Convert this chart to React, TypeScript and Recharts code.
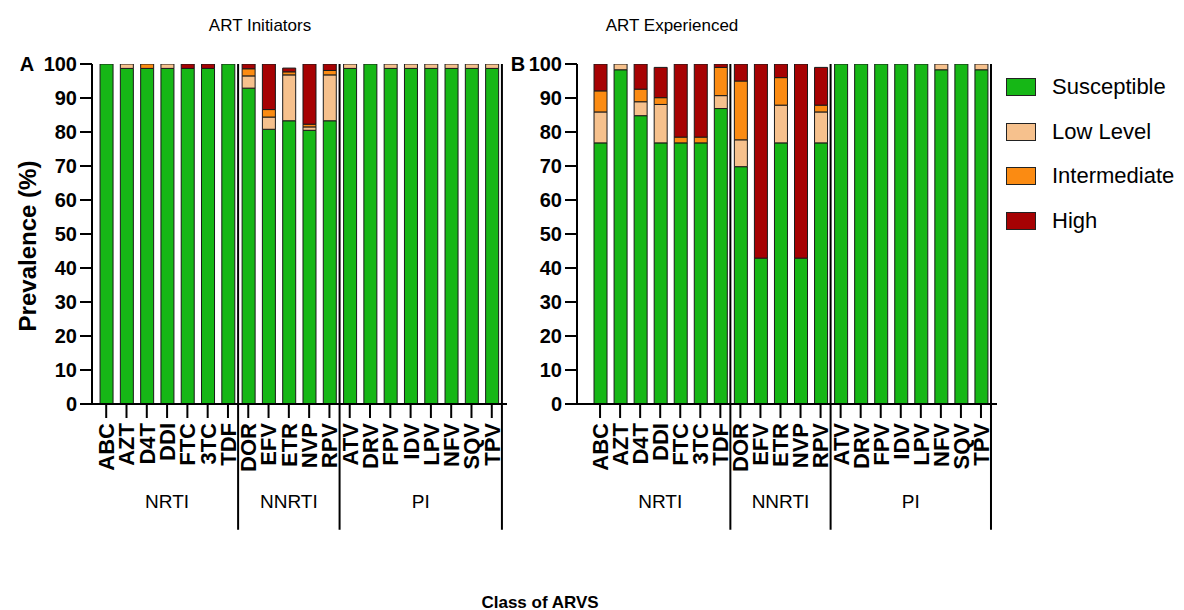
import React from "react";
import { BarChart, Bar, XAxis, YAxis, ReferenceLine } from "recharts";

const drugs = ["ABC","AZT","D4T","DDI","FTC","3TC","TDF","DOR","EFV","ETR","NVP","RPV","ATV","DRV","FPV","IDV","LPV","NFV","SQV","TPV"];
const groupNames = ["NRTI", "NNRTI", "PI"];
const groupSizes = [7, 5, 8];
const yTicks = [0, 10, 20, 30, 40, 50, 60, 70, 80, 90, 100];

const seriesNames = ["Susceptible", "Low Level", "Intermediate", "High"];
const seriesColors = ["#16b716", "#f6c18d", "#fb8b12", "#a60203"];

// ART Initiators
const susA = [100, 98.7, 98.7, 98.7, 98.7, 98.7, 100, 92.9, 80.8, 83.3, 80.5, 83.3, 98.7, 100, 98.7, 98.7, 98.7, 98.7, 98.7, 98.7];
const lowA = [0, 1.3, 0, 1.3, 0, 0, 0, 3.6, 3.6, 13.5, 1.0, 13.5, 1.3, 0, 1.3, 1.3, 1.3, 1.3, 1.3, 1.3];
const intA = [0, 0, 1.3, 0, 0, 0, 0, 2.1, 2.2, 0.9, 0.8, 1.3, 0, 0, 0, 0, 0, 0, 0, 0];
const highA = [0, 0, 0, 0, 1.3, 1.3, 0, 1.4, 13.4, 1.1, 17.7, 1.9, 0, 0, 0, 0, 0, 0, 0, 0];

// ART Experienced
const susB = [76.8, 98.3, 84.8, 76.8, 76.8, 76.8, 86.9, 69.8, 42.9, 76.8, 42.9, 76.8, 100, 100, 100, 100, 100, 98.3, 100, 98.3];
const lowB = [9.1, 1.7, 4.1, 11.3, 0, 0, 3.8, 7.9, 0, 11.1, 0, 9.1, 0, 0, 0, 0, 0, 1.7, 0, 1.7];
const intB = [6.2, 0, 3.7, 2.0, 1.7, 1.7, 8.3, 17.3, 0, 8.1, 0, 2.0, 0, 0, 0, 0, 0, 0, 0, 0];
const highB = [7.9, 0, 7.4, 8.9, 21.5, 21.5, 1.0, 5.0, 57.1, 4.0, 57.1, 11.1, 0, 0, 0, 0, 0, 0, 0, 0];

const FONT = '"Liberation Sans", Arial, Helvetica, sans-serif';

const buildRows = (s: number[], l: number[], i: number[], h: number[]) =>
  drugs.map((d, k) => ({ idx: k, drug: d, s: s[k], low: l[k], inter: i[k], high: h[k] }));

const groupCenters: number[] = [];
const separators: number[] = [];
{
  let start = 0;
  groupSizes.forEach((n) => {
    groupCenters.push(start + (n - 1) / 2);
    separators.push(start + n - 0.5);
    start += n;
  });
}

const DrugTick = (props: any) => {
  const { x, y, payload } = props;
  return (
    <text
      x={x}
      y={y}
      transform={`rotate(-90, ${x}, ${y})`}
      textAnchor="end"
      dy="0.36em"
      fontSize={22}
      fontWeight="bold"
      fill="#000"
      fontFamily={FONT}
    >
      {drugs[payload.value]}
    </text>
  );
};

const GroupTick = (props: any) => {
  const { x, y, payload } = props;
  const k = groupCenters.indexOf(payload.value);
  return (
    <text x={x} y={y} dy={18} textAnchor="middle" fontSize={19} fill="#000" fontFamily={FONT}>
      {groupNames[k]}
    </text>
  );
};

const keys = ["s", "low", "inter", "high"];

function Panel({ rows, left, width, yAxisWidth, domain }: any) {
  return (
    <div style={{ position: "absolute", left, top: 0 }}>
      <BarChart
        width={width}
        height={560}
        data={rows}
        margin={{ top: 64, right: 13, bottom: 30, left: 0 }}
      >
        <YAxis
          type="number"
          domain={[0, 100]}
          ticks={yTicks}
          interval={0}
          width={yAxisWidth}
          tickSize={12}
          tickMargin={3}
          allowDataOverflow
          axisLine={{ stroke: "#000", strokeWidth: 2 }}
          tickLine={{ stroke: "#000", strokeWidth: 2 }}
          tick={{ fontSize: 20, fontWeight: "bold", fill: "#000", fontFamily: FONT }}
        />
        <XAxis
          xAxisId="d"
          dataKey="idx"
          type="number"
          domain={domain}
          allowDataOverflow
          ticks={drugs.map((_, k) => k)}
          interval={0}
          height={86}
          tickSize={14}
          tickMargin={5}
          axisLine={{ stroke: "#000", strokeWidth: 2 }}
          tickLine={{ stroke: "#000", strokeWidth: 2 }}
          tick={<DrugTick />}
        />
        <XAxis
          xAxisId="g"
          dataKey="idx"
          type="number"
          domain={domain}
          allowDataOverflow
          ticks={groupCenters}
          interval={0}
          height={40}
          tickSize={0}
          tickMargin={0}
          axisLine={false}
          tickLine={false}
          tick={<GroupTick />}
        />
        {keys.map((k, i) => (
          <Bar
            key={k}
            xAxisId="d"
            dataKey={k}
            name={seriesNames[i]}
            stackId="a"
            fill={seriesColors[i]}
            stroke="#1a1a1a"
            strokeWidth={1}
            barSize={13}
            isAnimationActive={false}
          />
        ))}
        {separators.map((sx) => (
          <ReferenceLine
            key={sx}
            xAxisId="d"
            segment={[{ x: sx, y: 100 }, { x: sx, y: -37 }]}
            stroke="#000"
            strokeWidth={2}
            ifOverflow="visible"
          />
        ))}
      </BarChart>
    </div>
  );
}

const textBase: React.CSSProperties = {
  position: "absolute",
  fontFamily: FONT,
  color: "#000",
  whiteSpace: "nowrap",
  lineHeight: 1,
};

export default function App() {
  const rowsA = buildRows(susA, lowA, intA, highA);
  const rowsB = buildRows(susB, lowB, intB, highB);
  return (
    <div style={{ position: "absolute", left: 0, top: 0, width: 1184, height: 610, background: "#fff", overflow: "hidden" }}>
      <Panel rows={rowsA} left={0} width={520} yAxisWidth={92} domain={[-0.7, 19.75]} />
      <Panel rows={rowsB} left={500} width={510} yAxisWidth={77} domain={[-1.15, 19.8]} />

      <div style={{ ...textBase, left: 260, top: 25, fontSize: 17, transform: "translate(-50%, -50%)" }}>ART Initiators</div>
      <div style={{ ...textBase, left: 672, top: 25, fontSize: 17, transform: "translate(-50%, -50%)" }}>ART Experienced</div>

      <div style={{ ...textBase, left: 27, top: 64, fontSize: 20, fontWeight: "bold", transform: "translate(-50%, -50%)" }}>A</div>
      <div style={{ ...textBase, left: 518, top: 64, fontSize: 20, fontWeight: "bold", transform: "translate(-50%, -50%)" }}>B</div>

      <div style={{ ...textBase, left: 28, top: 246, fontSize: 24, fontWeight: "bold", transform: "translate(-50%, -50%) rotate(-90deg)" }}>Prevalence (%)</div>

      <div style={{ ...textBase, left: 540, top: 602, fontSize: 17, fontWeight: "bold", transform: "translate(-50%, -50%)" }}>Class of ARVS</div>

      {seriesNames.map((n, i) => (
        <div key={n} style={{ position: "absolute", left: 1006, top: 87 + i * 44.5 - 9, height: 18, display: "flex", alignItems: "center" }}>
          <div style={{ width: 28, height: 16, background: seriesColors[i], border: "1px solid #222" }} />
          <div style={{ ...textBase, position: "static", marginLeft: 16, fontSize: 22 }}>{n}</div>
        </div>
      ))}
    </div>
  );
}
